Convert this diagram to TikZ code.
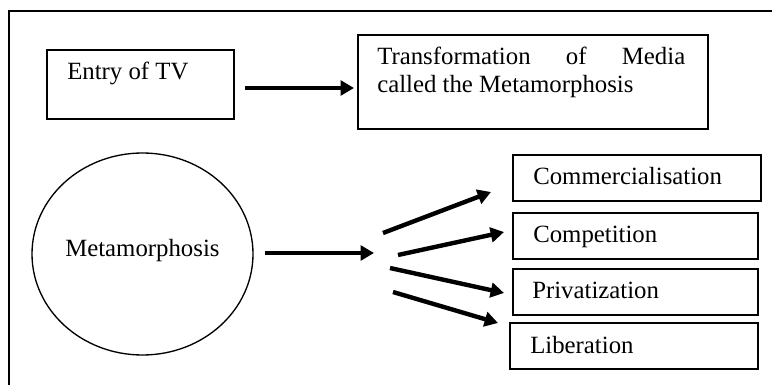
\documentclass[tikz,border=0pt]{standalone}
\usepackage{fontspec}
\setmainfont{Liberation Serif}
\usetikzlibrary{arrows.meta,shapes.geometric}
\tikzset{
  boxnode/.style={draw=black, line width=1.5pt, rectangle, inner sep=0pt, anchor=north west},
  txt/.style={inner sep=0pt, anchor=base west, font=\fontsize{18.6}{21}\selectfont, text=black},
  bigarrow/.style={line width=3.3pt, -{Triangle[length=10pt,width=11pt]}},
  framestyle/.style={line width=1.5pt, black}
}
\begin{document}
\begin{tikzpicture}[x=0.75pt,y=-0.75pt]
\useasboundingbox (0,0) rectangle (772,385);
% frame (top and left sides only)
\coordinate (fbl) at (9,385);
\coordinate (ftl) at (9,11);
\coordinate (ftr) at (772,11);
\draw[framestyle] (fbl) -- (ftl) -- (ftr);
% top row
\node[boxnode, minimum width=140.25pt, minimum height=51.75pt] (entry) at (46,49) {};
\node[txt] (entryt) at (67,80) {Entry of TV};
\node[boxnode, minimum width=262.5pt, minimum height=70.5pt] (trans) at (357,34) {};
\node[txt] (trans1) at (377,65) {\makebox[231pt][s]{Transformation of Media}};
\node[txt] (trans2) at (377,93) {called the Metamorphosis};
% ellipse
\node[draw=black, line width=1pt, ellipse, minimum width=165.75pt, minimum height=151.5pt, inner sep=0pt] (meta) at (142.5,254) {};
\node[txt] (metat) at (65,256) {Metamorphosis};
% right boxes
\node[boxnode, minimum width=186pt, minimum height=34.5pt] (comm) at (512,154) {};
\node[txt] (commt) at (533,185) {Commercialisation};
\node[boxnode, minimum width=183.75pt, minimum height=34.5pt] (comp) at (512,212) {};
\node[txt] (compt) at (533,243) {Competition};
\node[boxnode, minimum width=183.75pt, minimum height=34.5pt] (priv) at (512,268) {};
\node[txt] (privt) at (532,298) {Privatization};
\node[boxnode, minimum width=186pt, minimum height=34.5pt] (lib) at (509,322) {};
\node[txt] (libt) at (530,353) {Liberation};
% arrow end points
\coordinate (a1s) at (245,88);
\coordinate (a1e) at (354,88);
\coordinate (a2s) at (265,253);
\coordinate (a2e) at (374,253);
\coordinate (f1s) at (383,233);
\coordinate (f1e) at (491,192);
\coordinate (f2s) at (398,255);
\coordinate (f2e) at (504,232);
\coordinate (f3s) at (390,268);
\coordinate (f3e) at (504,293);
\coordinate (f4s) at (393,292);
\coordinate (f4e) at (498,323);
\draw[bigarrow] (a1s) -- (a1e);
\draw[bigarrow] (a2s) -- (a2e);
\draw[bigarrow] (f1s) -- (f1e);
\draw[bigarrow] (f2s) -- (f2e);
\draw[bigarrow] (f3s) -- (f3e);
\draw[bigarrow] (f4s) -- (f4e);
\end{tikzpicture}
\end{document}
